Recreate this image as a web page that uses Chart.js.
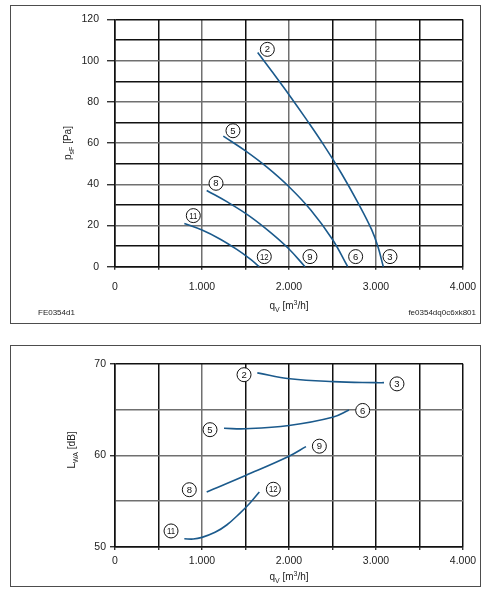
<!DOCTYPE html>
<html><head><meta charset="utf-8">
<script src="https://cdn.jsdelivr.net/npm/chart.js@4.4.0/dist/chart.umd.min.js"></script>
<style>
html,body{margin:0;padding:0;background:#fff;width:488px;height:596px;overflow:hidden;font-family:"Liberation Sans",Arial,sans-serif;color:#222}
.box{position:absolute;border:1.5px solid #4d4d4d;box-sizing:border-box}
.cv{position:absolute;left:0}
.t{position:absolute;font-size:10px;white-space:nowrap;line-height:1}
.t sub,.t sup{font-size:7px;line-height:0}
.fn{position:absolute;font-size:8px;white-space:nowrap;line-height:1;color:#222}
</style></head><body>
<div class="box" style="left:10px;top:5px;width:471px;height:319px"></div>
<div class="box" style="left:10px;top:345px;width:471px;height:242px"></div>
<div class="cv" style="top:0;width:488px;height:330px"><canvas id="c1"></canvas></div>
<div class="cv" style="top:330px;width:488px;height:266px"><canvas id="c2"></canvas></div>

<div class="t" style="left:68px;top:143px;transform:translate(-50%,-50%) rotate(-90deg)">p<sub>sF</sub> [Pa]</div>
<div class="t" style="left:289px;top:306px;transform:translate(-50%,-50%)">q<sub>V</sub> [m<sup>3</sup>/h]</div>
<div class="fn" style="left:38px;top:309px">FE0354d1</div>
<div class="fn" style="right:12px;top:309px">fe0354dq0c6xk801</div>
<div class="t" style="left:72px;top:450px;transform:translate(-50%,-50%) rotate(-90deg)">L<sub>WA</sub> [dB]</div>
<div class="t" style="left:289px;top:577px;transform:translate(-50%,-50%)">q<sub>V</sub> [m<sup>3</sup>/h]</div>

<script>
// ---- tick labels ----
const qTickValues = [0, 1000, 2000, 3000, 4000];
const qTickLabels = ['0', '1.000', '2.000', '3.000', '4.000'];
const pTickValues = [0, 20, 40, 60, 80, 100, 120];
const lTickValues = [50, 60, 70];

// ---- pressure curves (q in m3/h, p in Pa) ----
const p2_q = [1640, 1800, 2000, 2200, 2400, 2600, 2800, 2950, 3020, 3084];
const p2_p = [104, 95, 83.5, 71.5, 59, 45.5, 30.5, 18, 10, 0];
const p5_q = [1245, 1500, 1750, 2000, 2250, 2500, 2675];
const p5_p = [63.4, 56.2, 48.2, 38.8, 27.5, 13.2, 0];
const p8_q = [1054, 1300, 1550, 1800, 2000, 2184];
const p8_p = [37, 31.2, 24.45, 16.2, 8.6, 0];
const p11_q = [797, 1000, 1200, 1400, 1552, 1659];
const p11_p = [21, 17.8, 13.6, 8.4, 3.8, 0];

const pLabelText = ['2', '5', '8', '11', '3', '6', '9', '12'];
const pLabelQ = [1751, 1356, 1161, 900, 3161, 2766, 2241, 1716];
const pLabelP = [105.5, 66, 40.5, 24.8, 4.9, 4.9, 4.9, 4.9];

// ---- sound power curves (q in m3/h, L in dB) ----
const l2_q = [1636, 2011, 2509, 3000, 3092];
const l2_L = [69.0, 68.36, 68.04, 67.93, 67.93];
const l5_q = [1253, 1500, 2000, 2500, 2690];
const l5_L = [62.95, 62.9, 63.25, 64.15, 64.95];
const l8_q = [1054, 1500, 2000, 2195];
const l8_L = [56.0, 57.8, 59.9, 60.95];
const l11_q = [797, 900, 1000, 1150, 1284, 1437, 1552, 1659];
const l11_L = [50.9, 50.87, 51.05, 51.6, 52.4, 53.7, 54.8, 56.0];

const lLabelText = ['2', '3', '5', '6', '8', '9', '11', '12'];
const lLabelQ = [1483, 3241, 1092, 2847, 854, 2349, 644, 1820];
const lLabelL = [68.8, 67.8, 62.8, 64.9, 56.25, 61.0, 51.75, 56.3];

// ---------------------------------------------------------
Chart.defaults.font.family = '"Liberation Sans", Arial, sans-serif';
const LINE = '#1b5a8c';
const GRAY = '#707070';
const BLACK = '#111';

function pts(xs, ys) { return xs.map((x, i) => ({x: x, y: ys[i]})); }
function curve(xs, ys) {
  return {type: 'line', data: pts(xs, ys), borderColor: LINE, borderWidth: 1.6,
    pointRadius: 0, fill: false, tension: 0.4, clip: false};
}
function labels(texts, xs, ys) {
  return {type: 'scatter', data: pts(xs, ys), circleTexts: texts, pointRadius: 7,
    pointHoverRadius: 7, pointBackgroundColor: '#fff', pointBorderColor: '#111',
    pointBorderWidth: 1, clip: false};
}

const circleTextPlugin = {
  id: 'circleText',
  afterDatasetsDraw(chart) {
    const ctx = chart.ctx;
    chart.data.datasets.forEach((ds, i) => {
      if (!ds.circleTexts) return;
      const meta = chart.getDatasetMeta(i);
      ctx.save();
      ctx.font = '9.5px "Liberation Sans", Arial, sans-serif';
      ctx.fillStyle = '#111';
      ctx.textAlign = 'center';
      ctx.textBaseline = 'middle';
      meta.data.forEach((el, j) => {
        const t = ds.circleTexts[j];
        if (t.length > 1) {
          ctx.save();
          ctx.translate(el.x, el.y + 0.5);
          ctx.scale(0.82, 1);
          ctx.fillText(t, 0, 0);
          ctx.restore();
        } else ctx.fillText(t, el.x, el.y + 0.5);
      });
      ctx.restore();
    });
  }
};

function makeChart(id, datasets, o) {
  return new Chart(document.getElementById(id), {
    data: {datasets: datasets},
    plugins: [circleTextPlugin],
    options: {
      responsive: true, maintainAspectRatio: false, animation: false,
      events: [],
      layout: {autoPadding: false, padding: {left: 0, top: o.top, right: 25, bottom: 0}},
      plugins: {legend: {display: false}, tooltip: {enabled: false}},
      scales: {
        x: {
          type: 'linear', min: 0, max: 4000,
          afterFit: s => { s.height = o.xh; },
          afterBuildTicks: s => { const a = []; for (let v = 0; v <= 4000; v += 500) a.push({value: v}); s.ticks = a; },
          ticks: {
            autoSkip: false, maxRotation: 0, padding: o.xpad, color: '#222', font: {size: 10.5},
            callback: v => { const k = qTickValues.indexOf(v); return k >= 0 ? qTickLabels[k] : ''; }
          },
          grid: {
            lineWidth: 1.5, tickLength: 3, tickColor: BLACK, tickWidth: 1.2,
            color: c => (c.tick && o.grayX.includes(c.tick.value)) ? GRAY : BLACK
          },
          border: {color: BLACK, width: 1.5}
        },
        y: {
          type: 'linear', min: o.ymin, max: o.ymax,
          afterFit: s => { s.width = 115; },
          afterBuildTicks: s => { const a = []; for (let v = o.ymin; v <= o.ymax + 1e-9; v += o.ystep) a.push({value: v}); s.ticks = a; },
          ticks: {
            autoSkip: false, padding: o.ypad, color: '#222', font: {size: 10.5},
            callback: v => o.yLabels.includes(v) ? String(v) : ''
          },
          grid: {
            lineWidth: 1.5, tickLength: o.ytl, tickWidth: 1.2,
            tickColor: c => (c.tick && o.yLabels.includes(c.tick.value)) ? BLACK : 'rgba(0,0,0,0)',
            color: c => (c.tick && o.grayY.includes(c.tick.value)) ? GRAY : BLACK
          },
          border: {color: BLACK, width: 1.5}
        }
      }
    }
  });
}

makeChart('c1', [
  curve(p2_q, p2_p), curve(p5_q, p5_p), curve(p8_q, p8_p), curve(p11_q, p11_p),
  labels(pLabelText, pLabelQ, pLabelP)
], {top: 19.5, xh: 63.3, xpad: 11, ymin: 0, ymax: 120, ystep: 10, yLabels: pTickValues,
    ypad: 8, ytl: 8, grayX: [1000, 2000, 3000], grayY: [20, 40, 60, 80, 100]});

makeChart('c2', [
  curve(l2_q, l2_L), curve(l5_q, l5_L), curve(l8_q, l8_L), curve(l11_q, l11_L),
  labels(lLabelText, lLabelQ, lLabelL)
], {top: 33.7, xh: 49, xpad: 5, ymin: 50, ymax: 70, ystep: 5, yLabels: lTickValues,
    ypad: 4, ytl: 5, grayX: [1000], grayY: [55, 60, 65]});
</script>
</body></html>
